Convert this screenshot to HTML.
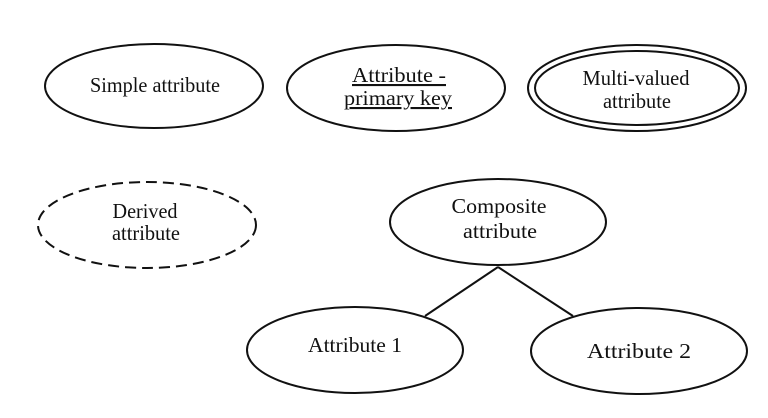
<!DOCTYPE html>
<html><head><meta charset="utf-8"><style>
html,body{margin:0;padding:0;background:#fff;}
svg{display:block;}
text{font-family:"Liberation Serif",serif;fill:#111;text-anchor:middle;}
</style></head><body>
<svg width="768" height="418" viewBox="0 0 768 418">
<g fill="none" stroke="#111" stroke-width="2">
<ellipse cx="154" cy="86" rx="109" ry="42"/>
<ellipse cx="396" cy="88" rx="109" ry="43"/>
<ellipse cx="637" cy="88" rx="109" ry="43"/>
<ellipse cx="637" cy="88" rx="102" ry="37"/>
<ellipse cx="147" cy="225" rx="109" ry="43" stroke-dasharray="11,6"/>
<ellipse cx="498" cy="222" rx="108" ry="43"/>
<ellipse cx="355" cy="350" rx="108" ry="43"/>
<ellipse cx="639" cy="351" rx="108" ry="43"/>
<line x1="498" y1="267" x2="425" y2="316"/>
<line x1="498" y1="267" x2="573" y2="316"/>
</g>
<g font-size="21">
<text x="155" y="92" textLength="130" lengthAdjust="spacingAndGlyphs">Simple attribute</text>
<text x="399" y="82" textLength="94" lengthAdjust="spacingAndGlyphs" text-decoration="underline">Attribute -</text>
<text x="398" y="105" textLength="108" lengthAdjust="spacingAndGlyphs" text-decoration="underline">primary key</text>
<text x="636" y="85" textLength="107" lengthAdjust="spacingAndGlyphs">Multi-valued</text>
<text x="637" y="108" textLength="68" lengthAdjust="spacingAndGlyphs">attribute</text>
<text x="145" y="218" textLength="65" lengthAdjust="spacingAndGlyphs">Derived</text>
<text x="146" y="240" textLength="68" lengthAdjust="spacingAndGlyphs">attribute</text>
<text x="499" y="213" textLength="95" lengthAdjust="spacingAndGlyphs">Composite</text>
<text x="500" y="238" textLength="74" lengthAdjust="spacingAndGlyphs">attribute</text>
<text x="355" y="352" textLength="94" lengthAdjust="spacingAndGlyphs">Attribute 1</text>
<text x="639" y="358" textLength="104" lengthAdjust="spacingAndGlyphs">Attribute 2</text>
</g>
</svg>
</body></html>
